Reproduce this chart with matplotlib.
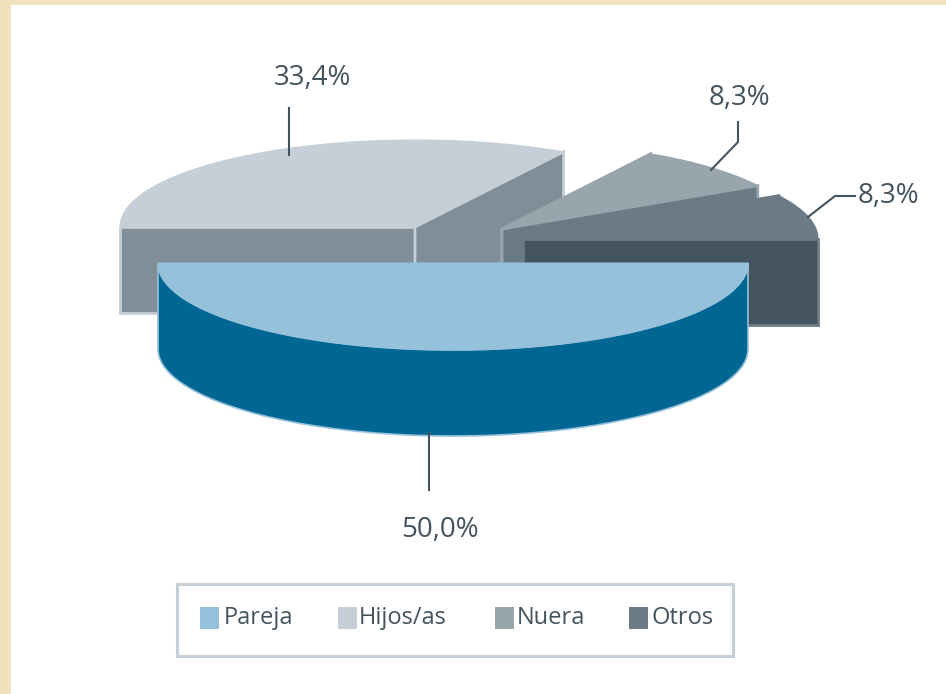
import matplotlib

matplotlib.use("Agg")
import matplotlib.pyplot as plt
import numpy as np
from matplotlib.patches import Polygon, Rectangle

# Datos
categorias = ["Pareja", "Hijos/as", "Nuera", "Otros"]
valores = [50.0, 33.4, 8.3, 8.3]
etiquetas = ["50,0%", "33,4%", "8,3%", "8,3%"]

# Colores: cara superior, cara lateral
TOP = ["#95c1da", "#c6cfd7", "#98a5ad", "#6b7b85"]
SIDE = ["#006693", "#7f8e97", "#6b7b85", "#44545f"]
TEXT = "#44545f"
BEIGE = "#f1e2bf"

# Geometria de la tarta en pixeles
RX, RY = 295, 87
DEPTH = 86
CENTROS = [(453, 263), (415, 227), (502, 229), (523, 239)]


def arc(cx, cy, a1, a2, dy=0):
    t = np.radians(np.linspace(a1, a2, 120))
    return np.column_stack([cx + RX * np.cos(t), cy - RY * np.sin(t) + dy])


def draw_slice(ax, i, a1, a2, z):
    cx, cy = CENTROS[i]
    top = np.vstack([[cx, cy], arc(cx, cy, a1, a2)])
    # caras laterales: los dos cortes y el borde visible de abajo
    if a1 >= 180 and a2 >= 180:
        curva = np.vstack([arc(cx, cy, a1, a2), arc(cx, cy, a2, a1, DEPTH)])
        ax.add_patch(Polygon(curva, fc=SIDE[i], ec=TOP[i], lw=1.2, zorder=z))
    else:
        for a in (a1, a2):
            p = arc(cx, cy, a, a)[0]
            cara = [(cx, cy), p, (p[0], p[1] + DEPTH), (cx, cy + DEPTH)]
            ax.add_patch(Polygon(cara, fc=SIDE[i], ec=TOP[i], lw=2.0, zorder=z))
    ax.add_patch(Polygon(top, fc=TOP[i], ec=TOP[i], lw=0.8, zorder=z + 0.5))


fig = plt.figure(figsize=(9.46, 6.94), dpi=100, facecolor=BEIGE)
ax = fig.add_axes([0, 0, 1, 1])
ax.set_xlim(0, 946)
ax.set_ylim(694, 0)
ax.axis("off")
ax.add_patch(Rectangle((11, 5), 935, 689, fc="white", ec="none", zorder=0))

# Angulos a partir de los valores: Pareja abajo, el resto en sentido horario
total = sum(valores)
grados = [v / total * 360 for v in valores]
a_hijos = 180 - grados[1]
a_nuera = a_hijos - grados[2]

draw_slice(ax, 1, 180, a_hijos, 1)
draw_slice(ax, 2, a_hijos, a_nuera, 2)
draw_slice(ax, 3, a_nuera, 0, 3)
draw_slice(ax, 0, 180, 360, 4)

# Lineas guia
guias = [([429, 429], [433, 490]),
         ([289, 289], [108, 155]),
         ([738, 738, 711], [122, 142, 170]),
         ([855, 835, 808], [196, 196, 217])]
for xs, ys in guias:
    ax.plot(xs, ys, color=TEXT, lw=1.5, zorder=6, solid_joinstyle="round")

plt.rcParams["font.family"] = ["Open Sans", "DejaVu Sans"]
pos_etq = [(440, 530), (312, 78), (739, 98), (888, 196)]
for txt, (x, y) in zip(etiquetas, pos_etq):
    ax.text(x, y, txt, color=TEXT, fontsize=20, ha="center", va="center",
            zorder=7)

# Leyenda
ax.add_patch(Rectangle((177, 584), 556, 72, fc="white", ec=TOP[1], lw=2.2,
                       zorder=5))
for nombre, color, xs, xt in zip(categorias, TOP, [200, 338, 495, 629],
                                 [224, 359, 517, 651]):
    ax.add_patch(Rectangle((xs, 607), 19, 22, fc=color, ec="none", zorder=6))
    ax.text(xt, 618, nombre, color=TEXT, fontsize=17, ha="left", va="center",
            zorder=7)

fig.savefig("out.png", dpi=100, facecolor=fig.get_facecolor())
plt.close(fig)
